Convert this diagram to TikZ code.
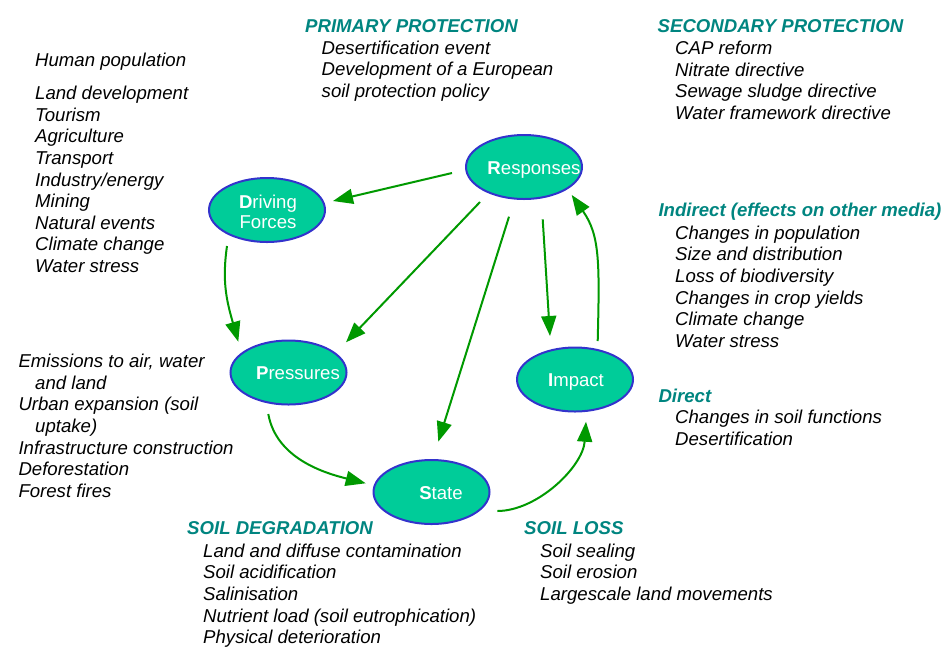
\documentclass[tikz,border=0pt]{standalone}
\usepackage{fontspec}
\setmainfont{Liberation Sans}
\usetikzlibrary{arrows.meta,calc,shapes.geometric}
\definecolor{ellfill}{HTML}{00CC99}
\definecolor{ellline}{HTML}{3333CC}
\definecolor{arrgreen}{HTML}{009900}
\definecolor{headteal}{HTML}{008580}
\begin{document}
\begin{tikzpicture}[x=1pt,y=-1pt,
  ell/.style={ellipse,draw=ellline,fill=ellfill,line width=2pt,minimum width=116pt,minimum height=64pt,inner sep=0pt},
  elltext/.style={text=white,font=\fontsize{18.6}{19.5}\selectfont,inner sep=0pt,align=center},
  arr/.style={draw=arrgreen,line width=2pt,-{Triangle[length=20pt,width=15pt]}},
  items/.style={anchor=north west,inner sep=0pt,align=left,font=\fontsize{18.6}{21.6}\selectfont\itshape},
  head/.style={anchor=north west,inner sep=0pt,align=left,text=headteal,font=\fontsize{18.6}{21.6}\selectfont\bfseries\itshape}]
\useasboundingbox (0,0) rectangle (944,646);

% ellipses
\node[ell] (resp) at (524,167) {};
\node[ell] (drive) at (267,210) {};
\node[ell] (press) at (288.5,372.5) {};
\node[ell] (impact) at (575,379.5) {};
\node[ell] (state) at (431.5,492) {};
\node[elltext,anchor=base] (respt) at (534,174) {\textbf{R}esponses};
\node[elltext,anchor=north] (drivet) at (268,195) {\textbf{D}riving\\Forces};
\node[elltext,anchor=base] (presst) at (298,379.3) {\textbf{P}ressures};
\node[elltext,anchor=base] (impactt) at (576,386.7) {\textbf{I}mpact};
\node[elltext,anchor=base] (statet) at (441,499.3) {\textbf{S}tate};

% connectors
\draw[arr] ($(resp)+(-72,6)$) -- ($(drive)+(66,-9)$);
\draw[arr] ($(drive)+(-40,36)$) .. controls ($(drive)+(-45,71)$) and ($(press)+(-62.2,-72.8)$) .. ($(press)+(-50.2,-30.8)$);
\draw[arr] ($(resp)+(-44,35)$) -- ($(press)+(57.5,-30.2)$);
\draw[arr] ($(resp)+(-15,49.7)$) -- ($(state)+(6.8,-50.3)$);
\draw[arr] ($(resp)+(18.7,52.3)$) -- ($(impact)+(-25,-43.5)$);
\draw[arr] ($(impact)+(22.7,-38.5)$) .. controls ($(impact)+(24.7,-118.5)$) and ($(resp)+(75.7,68)$) .. ($(resp)+(47.7,28)$);
\draw[arr] ($(press)+(-20.2,41.5)$) .. controls ($(press)+(-12.2,86.5)$) and ($(state)+(-105.8,-18.7)$) .. ($(state)+(-65.8,-8.7)$);
\draw[arr] ($(state)+(65.8,19)$) .. controls ($(state)+(105.8,19)$) and ($(impact)+(8,87.2)$) .. ($(impact)+(11,42.2)$);

% texts
\node[items] (hp) at (35,53.3) {Human population};
\node[items] (df) at (35,86) {Land development\\Tourism\\Agriculture\\Transport\\Industry/energy\\Mining\\Natural events\\Climate change\\Water stress};
\node[head] (pph) at (305,19.3) {PRIMARY PROTECTION};
\node[items] (ppi) at (321.5,40.6) {Desertification event\\Development of a European\\soil protection policy};
\node[head] (sph) at (657.5,19.3) {SECONDARY PROTECTION};
\node[items] (spi) at (675,41) {CAP reform\\Nitrate directive\\Sewage sludge directive\\Water framework directive};
\node[head] (indh) at (658.3,203.3) {Indirect (effects on other media)};
\node[items] (indi) at (675,225.6) {Changes in population\\Size and distribution\\Loss of biodiversity\\Changes in crop yields\\Climate change\\Water stress};
\node[head] (dirh) at (658.3,389) {Direct};
\node[items] (diri) at (675,410) {Changes in soil functions\\Desertification};
\node[items] (pri) at (18.3,354) {Emissions to air, water\\\hspace*{16.7pt}and land\\Urban expansion (soil\\\hspace*{16.7pt}uptake)\\Infrastructure construction\\Deforestation\\Forest fires};
\node[head] (sdh) at (187,521.6) {SOIL DEGRADATION};
\node[items] (sdi) at (203,543.6) {Land and diffuse contamination\\Soil acidification\\Salinisation\\Nutrient load (soil eutrophication)\\Physical deterioration};
\node[head] (slh) at (524,521.6) {SOIL LOSS};
\node[items] (sli) at (540,543.6) {Soil sealing\\Soil erosion\\Largescale land movements};
\end{tikzpicture}
\end{document}
